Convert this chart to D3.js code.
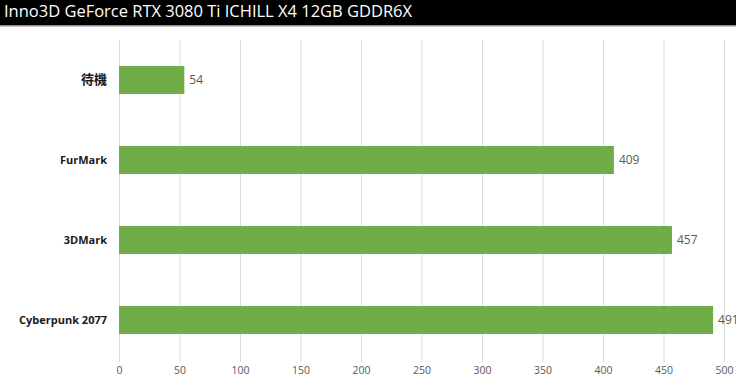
<!DOCTYPE html>
<html>
<head>
<meta charset="utf-8">
<script src="https://cdn.jsdelivr.net/npm/d3@7"></script>
<style>
  body { margin: 0; background: #fff; }
  svg { display: block; }
</style>
</head>
<body>
<div id="chart"></div>
<script>
var title = "Inno3D GeForce RTX 3080 Ti ICHILL X4 12GB GDDR6X";
var categories = ["待機", "FurMark", "3DMark", "Cyberpunk 2077"];
var values = [54, 409, 457, 491];
var ticks = [0, 50, 100, 150, 200, 250, 300, 350, 400, 450, 500];

var width = 736, height = 379;
var margin = {top: 40, right: 12, bottom: 19, left: 119};

var svg = d3.select("#chart").append("svg")
  .attr("width", width)
  .attr("height", height);

// black title bar
svg.append("rect")
  .attr("x", 0).attr("y", 0)
  .attr("width", width).attr("height", 25)
  .attr("fill", "#000");
svg.append("rect")
  .attr("x", 0).attr("y", 25)
  .attr("width", width).attr("height", 1.5)
  .attr("fill", "#8c8c8c");
svg.append("text")
  .attr("x", 4).attr("y", 17)
  .attr("fill", "#fff")
  .attr("font-family", "'Open Sans', sans-serif")
  .attr("font-size", 16)
  .attr("textLength", 408)
  .attr("lengthAdjust", "spacingAndGlyphs")
  .text(title);

var x = d3.scaleLinear()
  .domain([0, 500])
  .range([margin.left, width - margin.right]);

var y = d3.scaleBand()
  .domain(categories)
  .range([margin.top, height - margin.bottom])
  .paddingInner(0.65)
  .paddingOuter(0.325);

// gridlines
svg.append("g")
  .selectAll("line")
  .data(ticks)
  .enter()
  .append("line")
  .attr("x1", function(d){ return x(d) + 0.5; })
  .attr("x2", function(d){ return x(d) + 0.5; })
  .attr("y1", margin.top)
  .attr("y2", height - margin.bottom + 2)
  .attr("stroke", "#d9d9d9")
  .attr("stroke-width", 1);

// x tick labels
var xAxis = d3.axisBottom(x).tickValues(ticks).tickSize(0).tickPadding(0);
var gx = svg.append("g")
  .attr("transform", "translate(0," + (height - 9) + ")")
  .call(xAxis);
gx.select(".domain").remove();
gx.selectAll("text")
  .attr("dy", "0.35em")
  .attr("fill", "#595959")
  .attr("font-family", "'Open Sans', sans-serif")
  .attr("font-size", 10.5);

// bars
svg.append("g")
  .selectAll("rect")
  .data(values)
  .enter()
  .append("rect")
  .attr("x", x(0))
  .attr("y", function(d, i){ return y(categories[i]); })
  .attr("width", function(d){ return x(d) - x(0); })
  .attr("height", y.bandwidth())
  .attr("fill", "#70ad47");

// value labels (last one runs off the right edge, as in the original)
svg.append("g")
  .selectAll("text")
  .data(values)
  .enter()
  .append("text")
  .attr("x", function(d){ return x(d) + 5; })
  .attr("y", function(d, i){ return y(categories[i]) + y.bandwidth() / 2; })
  .attr("dy", "0.35em")
  .attr("fill", "#595959")
  .attr("font-family", "'Open Sans', sans-serif")
  .attr("font-size", 12)
  .text(function(d){ return d; });

// category labels
var yAxis = d3.axisLeft(y).tickSize(0).tickPadding(12);
var gy = svg.append("g")
  .attr("transform", "translate(" + margin.left + ",0)")
  .call(yAxis);
gy.select(".domain").remove();
gy.selectAll("text")
  .attr("fill", "#1a1a1a")
  .attr("font-family", function(d){ return /[\u4e00-\u9fff]/.test(d) ? "'Noto Sans CJK TC', sans-serif" : "'Open Sans', sans-serif"; })
  .attr("font-weight", "bold")
  .attr("font-size", function(d){ return /[\u4e00-\u9fff]/.test(d) ? 13 : 11; });
</script>
</body>
</html>
